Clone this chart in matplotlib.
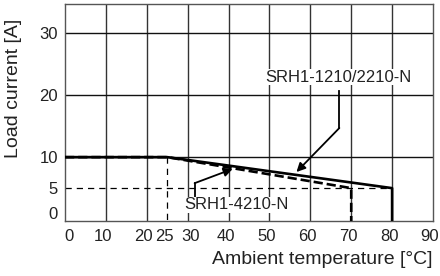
import matplotlib
matplotlib.use("Agg")
import matplotlib.pyplot as plt
from matplotlib.transforms import ScaledTranslation

plt.rcParams['font.family'] = ['Liberation Sans', 'DejaVu Sans']

# derating curves (temperature [degC], load current [A])
temp_1210 = [0, 25, 80, 80]
curr_1210 = [10, 10, 5, -0.3]
temp_4210 = [0, 25, 70, 70]
curr_4210 = [10, 10, 5, -0.3]

# guide lines
guide_5a_x = [0, 80]
guide_5a_y = [5, 5]
guide_25c_x = [25, 25]
guide_25c_y = [10, -0.3]

x_ticks = [0, 10, 20, 25, 30, 40, 50, 60, 70, 80, 90]
y_ticks = [0, 5, 10, 20, 30]
x_grid = [10, 20, 30, 40, 50, 60, 70, 80]
y_grid = [10, 20, 30]

label_1210 = "SRH1-1210/2210-N"
label_4210 = "SRH1-4210-N"
# (text pos, leader knee top, leader knee bottom, arrow tip)
ann_1210 = [(66.8, 22.9), (67.1, 20.6), (67.1, 14.7), (56.6, 7.6)]
ann_4210 = [(42.0, 2.3), (31.7, 3.1), (31.7, 5.8), (41.0, 8.1)]

fig = plt.figure(figsize=(4.4, 2.76), dpi=100)
ax = fig.add_axes([65 / 440, 1 - 221 / 276, 368 / 440, 217 / 276])
ax.set_xlim(0, 90)
ax.set_ylim(-0.3, 34.7)

ink = '#222222'
for gx in x_grid:
    ax.axvline(gx, color='#333333', lw=1.0, zorder=1)
for gy in y_grid:
    ax.axhline(gy, color='#111111', lw=1.0, zorder=1)

ax.plot(guide_5a_x, guide_5a_y, color='black', lw=0.9, ls=(0, (5, 4)), zorder=2)
ax.plot(guide_25c_x, guide_25c_y, color='black', lw=0.9, ls=(0, (5, 4)), zorder=2)

ax.plot(temp_4210, curr_4210, color='black', lw=1.9, ls=(0, (3.5, 1.5)), zorder=3)
ax.plot(temp_1210, curr_1210, color='black', lw=1.9, zorder=4)

for label, pts in [(label_1210, ann_1210), (label_4210, ann_4210)]:
    (tx, ty), (k1x, k1y), (k2x, k2y), (ax_, ay_) = pts
    ax.plot([k1x, k2x], [k1y, k2y], color='black', lw=1.3, zorder=5)
    ax.annotate('', xy=(ax_, ay_), xytext=(k2x, k2y),
                arrowprops=dict(arrowstyle='-|>', color='black', lw=1.3,
                                mutation_scale=13, shrinkA=0, shrinkB=0),
                zorder=5)
    ax.text(tx, ty, label, ha='center', va='center', fontsize=12, color=ink,
            bbox=dict(facecolor='white', edgecolor='none', pad=0.5), zorder=6)

for s in ax.spines.values():
    s.set_color('#555555')
    s.set_linewidth(1.0)

ax.set_xticks(x_ticks)
ax.set_yticks(y_ticks)
ax.tick_params(length=0, labelsize=12, labelcolor=ink, pad=5)
ax.tick_params(axis='x', pad=6)

# nudge crowded labels like the original
offsets_x = {0: 4, 20: -3, 30: 3}
for lab, val in zip(ax.get_xticklabels(), x_ticks):
    dx = offsets_x.get(val, -3)
    lab.set_transform(lab.get_transform() + ScaledTranslation(dx / 100, 0, fig.dpi_scale_trans))
for lab, val in zip(ax.get_yticklabels(), y_ticks):
    if val == 0:
        lab.set_transform(lab.get_transform() + ScaledTranslation(0, 6 / 100, fig.dpi_scale_trans))

ax.set_xlabel('Ambient temperature [°C]', fontsize=14, color=ink, loc='right', labelpad=5)
fig.text(14 / 440, 1 - 88 / 276, 'Load current [A]', rotation=90, ha='center', va='center',
         fontsize=14, color=ink)

fig.savefig('out.png', dpi=100)
